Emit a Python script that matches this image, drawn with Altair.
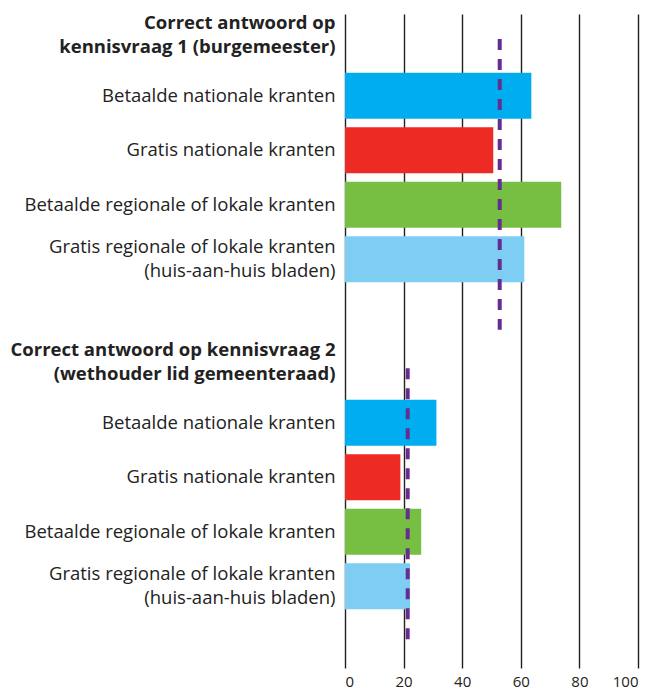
import altair as alt
import pandas as pd

headers = [
    "Correct antwoord op|kennisvraag 1 (burgemeester)",
    "Correct antwoord op kennisvraag 2|(wethouder lid gemeenteraad)",
]
categories = [
    "Betaalde nationale kranten",
    "Gratis nationale kranten",
    "Betaalde regionale of lokale kranten",
    "Gratis regionale of lokale kranten|(huis-aan-huis bladen)",
]
q1_values = [63.6, 50.6, 73.8, 61.2]
q2_values = [31.2, 18.9, 26.0, 22.2]
averages = [52.8, 21.4]
colors = ["#00aeef", "#ee2a24", "#77bf43", "#7ecef3"]
x_ticks = [0, 20, 40, 60, 80, 100]

rows = []
bars = []
rules = []
for gi, (head, vals) in enumerate(zip(headers, [q1_values, q2_values])):
    rows.append(head)
    for ci, (cat, v) in enumerate(zip(categories, vals)):
        key = f"q{gi + 1}:{cat}"
        rows.append(key)
        bars.append({"row": key, "value": v, "kind": cat})
    spacer = f"sp{gi + 1}:"
    rows.append(spacer)
    rules.append({"group": gi + 1, "row": head, "row2": spacer, "value": averages[gi]})

bars_df = pd.DataFrame(bars)
rules_df = pd.DataFrame(rules)

font = "Open Sans"

y_scale = alt.Scale(domain=rows, paddingInner=0.155, paddingOuter=0.0775)

bar_layer = alt.Chart(bars_df).mark_bar().encode(
    x=alt.X(
        "value:Q",
        scale=alt.Scale(domain=[0, 100], nice=False),
        axis=alt.Axis(
            values=x_ticks,
            title=None,
            grid=True,
            gridColor="#222222",
            gridWidth=1.4,
            gridOpacity=1,
            domain=False,
            ticks=False,
            labelPadding=6,
            labelFont=font,
            labelFontSize=15,
            labelColor="#222222",
        ),
    ),
    y=alt.Y(
        "row:N",
        scale=y_scale,
        sort=rows,
        axis=alt.Axis(
            title=None,
            domain=False,
            ticks=False,
            grid=False,
            labelExpr="split(slice(datum.label, indexof(datum.label, ':') + 1), '|')",
            labelFont=font,
            labelFontSize=18.5,
            labelLineHeight=24,
            labelColor="#222222",
            labelFontWeight={
                "condition": {"test": "indexof(datum.value, 'Correct') == 0", "value": "bold"},
                "value": "normal",
            },
            labelOffset={
                "condition": [
                    {"test": "indexof(datum.value, 'Correct') == 0", "value": -18},
                    {"test": "indexof(datum.value, '|') >= 0", "value": -12},
                ],
                "value": 0,
            },
            labelLimit=0,
            labelPadding=10,
            minExtent=333,
            maxExtent=333,
        ),
    ),
    color=alt.Color(
        "kind:N",
        scale=alt.Scale(domain=categories, range=colors),
        legend=None,
    ),
)

rule_base = alt.Chart(rules_df).mark_rule(
    color="#662d91", strokeWidth=4, strokeDash=[11, 9]
)

rule_layer1 = rule_base.transform_filter("datum.group == 1").encode(
    x="value:Q",
    y=alt.Y("row:N", scale=y_scale, sort=rows, bandPosition=0.45),
    y2=alt.Y2("row2:N", bandPosition=0.85),
)
rule_layer2 = rule_base.transform_filter("datum.group == 2").encode(
    x="value:Q",
    y=alt.Y("row:N", scale=y_scale, sort=rows),
    y2="row2:N",
)

chart = (
    alt.layer(bar_layer, rule_layer1, rule_layer2)
    .properties(
        width=293,
        height=654,
        padding={"left": 2, "top": 5, "right": 5, "bottom": 2},
    )
    .configure_view(stroke=None)
)

chart.save("out.html", embed_options={"renderer": "svg", "actions": False})
